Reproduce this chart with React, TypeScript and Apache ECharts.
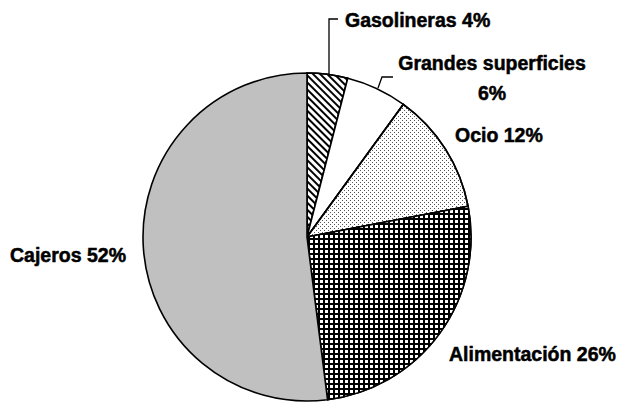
import React, { useEffect, useRef } from "react";
import * as echarts from "echarts";

const categories = ["Gasolineras", "Grandes superficies", "Ocio", "Alimentación", "Cajeros"];
const shares = [4, 6, 12, 26, 52];

// label anchors / leader lines (layout only)
const labelPos = [
  { x: 345, y: 20, align: "left", line: [[329, 75], [329, 19], [338, 19]] },
  { x: 492, y: 78, align: "center", line: [[378, 88], [382, 77], [393, 77]] },
  { x: 455, y: 135, align: "left", line: null },
  { x: 449, y: 354, align: "left", line: null },
  { x: 10, y: 255, align: "left", line: null },
];

const styles = [
  {
    color: "#ffffff",
    decal: { symbol: "rect", symbolSize: 1, color: "#000", dashArrayX: [1, 0], dashArrayY: [1.3, 2.7], rotation: Math.PI / 4 },
  },
  { color: "#ffffff" },
  {
    color: "#ffffff",
    decal: { symbol: "rect", symbolSize: 1, color: "#555", dashArrayX: [[1, 3], [0, 2, 1, 1]], dashArrayY: [1, 1] },
  },
  {
    color: "#000000",
    decal: { symbol: "rect", symbolSize: 1, color: "#ffffff", dashArrayX: [3, 1.4], dashArrayY: [3, 1.4] },
  },
  { color: "#c0c0c0" },
];

export default function App() {
  const ref = useRef<HTMLDivElement>(null);
  useEffect(() => {
    if (!ref.current) return;
    const chart = echarts.init(ref.current, null, { renderer: "svg" });
    chart.setOption({
      animation: false,
      backgroundColor: "#ffffff",
      series: [
        {
          type: "pie",
          center: [307, 237],
          radius: 164,
          startAngle: 90,
          clockwise: true,
          avoidLabelOverlap: false,
          itemStyle: { borderColor: "#000", borderWidth: 1.6 },
          emphasis: { disabled: true },
          label: {
            show: true,
            position: "outside",
            color: "#000",
            fontFamily: "Liberation Sans",
            fontWeight: "bold",
            fontSize: 19.5,
            lineHeight: 30,
            textBorderColor: "#000",
            textBorderWidth: 0.5,
            formatter: (p: any) => (p.dataIndex === 1 ? `${p.name}\n${p.value}%` : `${p.name} ${p.value}%`),
          },
          labelLine: { show: false, lineStyle: { color: "#000", width: 1.3 } },
          labelLayout: (params: any) => {
            const lp = labelPos[params.dataIndex];
            const out: any = { x: lp.x, y: lp.y, align: lp.align, verticalAlign: "middle" };
            if (lp.line) out.labelLinePoints = lp.line;
            return out;
          },
          data: categories.map((name, i) => ({
            name,
            value: shares[i],
            itemStyle: styles[i],
            labelLine: { show: labelPos[i].line !== null, length: 10, length2: 10 },
          })),
        },
      ],
    });
    return () => chart.dispose();
  }, []);
  return (
    <div
      ref={ref}
      style={{ position: "fixed", left: 0, top: 0, width: 623, height: 403, background: "#fff" }}
    />
  );
}
